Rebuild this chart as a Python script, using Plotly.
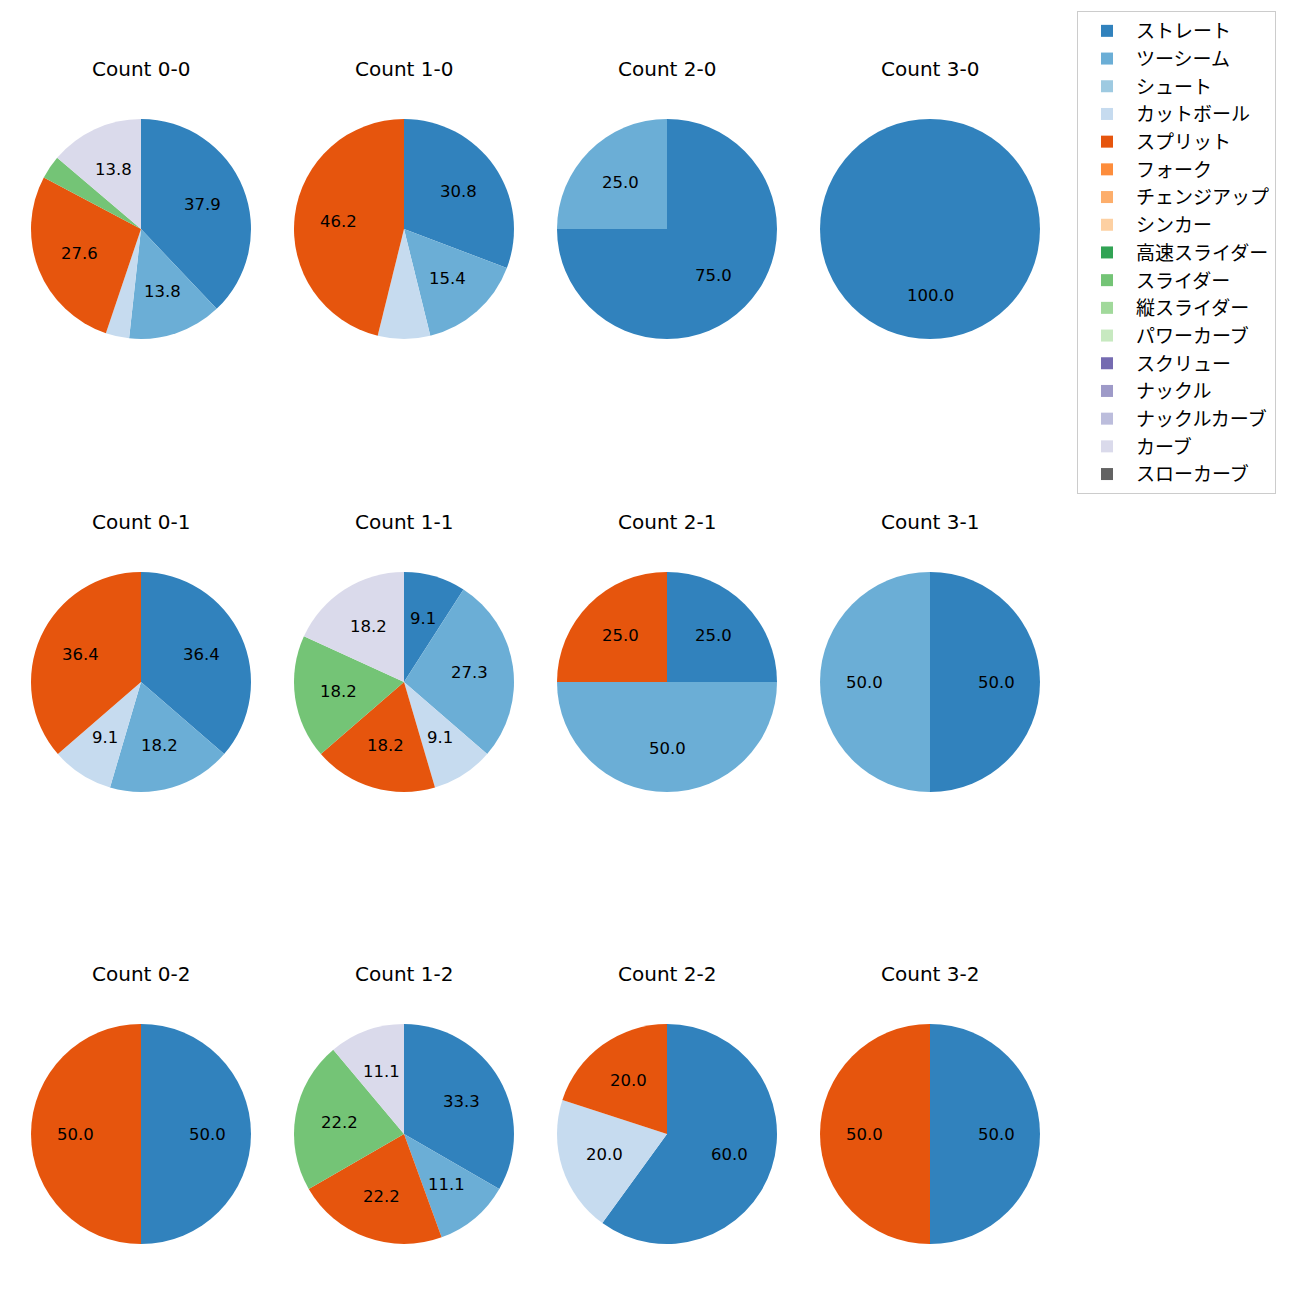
import math
import plotly.graph_objects as go

pitch_types = ["ストレート", "ツーシーム", "シュート", "カットボール", "スプリット", "フォーク",
               "チェンジアップ", "シンカー", "高速スライダー", "スライダー", "縦スライダー",
               "パワーカーブ", "スクリュー", "ナックル", "ナックルカーブ", "カーブ", "スローカーブ"]
colors = ["#3182bd", "#6baed6", "#9ecae1", "#c6dbef", "#e6550d", "#fd8d3c", "#fdae6b", "#fdd0a2",
          "#31a354", "#74c476", "#a1d99b", "#c7e9c0", "#756bb1", "#9e9ac8", "#bcbddc", "#dadaeb",
          "#636363"]

counts = ["0-0", "1-0", "2-0", "3-0",
          "0-1", "1-1", "2-1", "3-1",
          "0-2", "1-2", "2-2", "3-2"]

# pitch counts per pitch type (same order as pitch_types)
c_0_0 = [11, 4, 0, 1, 8, 0, 0, 0, 0, 1, 0, 0, 0, 0, 0, 4, 0]
c_1_0 = [4, 2, 0, 1, 6, 0, 0, 0, 0, 0, 0, 0, 0, 0, 0, 0, 0]
c_2_0 = [3, 1, 0, 0, 0, 0, 0, 0, 0, 0, 0, 0, 0, 0, 0, 0, 0]
c_3_0 = [1, 0, 0, 0, 0, 0, 0, 0, 0, 0, 0, 0, 0, 0, 0, 0, 0]
c_0_1 = [4, 2, 0, 1, 4, 0, 0, 0, 0, 0, 0, 0, 0, 0, 0, 0, 0]
c_1_1 = [1, 3, 0, 1, 2, 0, 0, 0, 0, 2, 0, 0, 0, 0, 0, 2, 0]
c_2_1 = [1, 2, 0, 0, 1, 0, 0, 0, 0, 0, 0, 0, 0, 0, 0, 0, 0]
c_3_1 = [1, 1, 0, 0, 0, 0, 0, 0, 0, 0, 0, 0, 0, 0, 0, 0, 0]
c_0_2 = [1, 0, 0, 0, 1, 0, 0, 0, 0, 0, 0, 0, 0, 0, 0, 0, 0]
c_1_2 = [3, 1, 0, 0, 2, 0, 0, 0, 0, 2, 0, 0, 0, 0, 0, 1, 0]
c_2_2 = [3, 0, 0, 1, 1, 0, 0, 0, 0, 0, 0, 0, 0, 0, 0, 0, 0]
c_3_2 = [1, 0, 0, 0, 1, 0, 0, 0, 0, 0, 0, 0, 0, 0, 0, 0, 0]

data = [c_0_0, c_1_0, c_2_0, c_3_0, c_0_1, c_1_1, c_2_1, c_3_1, c_0_2, c_1_2, c_2_2, c_3_2]

W = H = 1300
OFF = 8  # page body margin
col_cx = [141 - OFF, 404 - OFF, 667 - OFF, 930 - OFF]
row_cy = [229 - OFF, 682 - OFF, 1134 - OFF]
title_dy = 160
R = 110
LATIN = "DejaVu Sans, Noto Sans CJK JP, sans-serif"
CJK = "Noto Sans CJK JP, sans-serif"

fig = go.Figure()
annotations = []
for i, (cnt, vals) in enumerate(zip(counts, data)):
    r, c = divmod(i, 4)
    cx, cy = col_cx[c], row_cy[r]
    total = sum(vals)
    fig.add_trace(go.Pie(
        labels=pitch_types, values=vals, textinfo="none",
        sort=False, direction="clockwise", rotation=0,
        marker=dict(colors=colors, line=dict(width=0)),
        domain=dict(x=[(cx - R) / W, (cx + R) / W], y=[1 - (cy + R) / H, 1 - (cy - R) / H]),
        showlegend=(i == 0), hoverinfo="label+percent",
    ))
    # percentage labels at 0.6 radius along the slice bisector (matplotlib style)
    cum = 0
    for v in vals:
        if v > 0:
            p = 100 * v / total
            ang = math.radians(90 - 360 * (cum + v / 2) / total)
            if p >= 8:
                tx = cx + 0.6 * R * math.cos(ang)
                ty = cy - 0.6 * R * math.sin(ang)
                annotations.append(dict(text=f"{p:.1f}", x=tx / W, y=1 - ty / H,
                                        xref="paper", yref="paper", showarrow=False,
                                        xanchor="center", yanchor="middle",
                                        font=dict(size=16.5, color="black", family=LATIN)))
        cum += v
    annotations.append(dict(text=f"Count {cnt}", x=cx / W, y=1 - (cy - title_dy) / H,
                            xref="paper", yref="paper", showarrow=False,
                            xanchor="center", yanchor="middle",
                            font=dict(size=20, color="black", family=LATIN)))

fig.update_layout(
    width=W, height=H, margin=dict(l=0, r=0, t=0, b=0),
    paper_bgcolor="white", plot_bgcolor="white",
    annotations=annotations,
    font=dict(family=CJK),
    legend=dict(x=(1077 - OFF) / W, y=1 - (11 - OFF) / H, xanchor="left", yanchor="top",
                bgcolor="white", bordercolor="#cccccc", borderwidth=1,
                font=dict(size=19, color="black", family=CJK),
                itemwidth=48, traceorder="normal"),
)
fig.write_html("out.html")
